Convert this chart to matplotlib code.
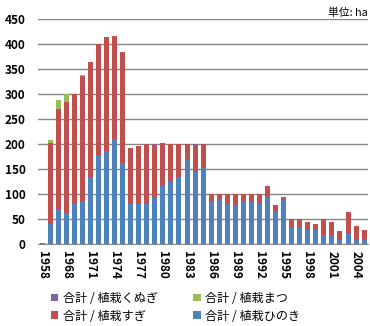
import matplotlib.pyplot as plt
import numpy as np

plt.rcParams["font.family"] = ["Noto Sans CJK JP", "DejaVu Sans"]

years = [1958, 1966, 1967] + list(range(1968, 2006))
hinoki = [0, 41, 69, 62, 81, 86, 133, 179, 187, 211, 162, 81, 81, 81, 94, 117,
          125, 133, 170, 145, 153, 87, 91, 83, 79, 87, 85, 83, 95, 65, 91, 35,
          35, 29, 29, 19, 19, 9, 21, 9, 9]
sugi = [2, 161, 202, 223, 219, 251, 232, 222, 228, 206, 223, 112, 116, 120, 104,
        86, 76, 68, 31, 53, 48, 14, 10, 18, 22, 14, 16, 18, 22, 13, 4, 15, 15,
        15, 11, 31, 26, 17, 43, 28, 19]
matsu = [0, 7, 18, 15, 0, 2] + [0] * 35
kunugi = [0] * 14 + [2, 0, 0, 0, 0, 2] + [0] * 21

series = [
    ("合計 / 植栽ひのき", hinoki, "#4F81BD"),
    ("合計 / 植栽すぎ", sugi, "#C0504D"),
    ("合計 / 植栽まつ", matsu, "#9BBB59"),
    ("合計 / 植栽くぬぎ", kunugi, "#8064A2"),
]

fig = plt.figure(figsize=(3.7, 3.26), dpi=100)
ax = fig.add_axes([0.103, 0.2506, 0.892, 0.6904])

x = np.arange(len(years))
bottom = np.zeros(len(years))
handles = {}
for label, values, color in series:
    vals = np.array(values, dtype=float)
    handles[label] = ax.bar(x, vals, width=0.62, bottom=bottom, color=color,
                            label=label, zorder=3)
    bottom += vals

ax.set_xlim(-0.5, 40.5)
ax.set_ylim(0, 450)
ax.set_yticks(np.arange(0, 451, 50))
ax.yaxis.grid(True, color="#868686", linewidth=1.0, zorder=0)
ax.set_axisbelow(True)
for side in ["top", "right", "left"]:
    ax.spines[side].set_visible(False)
ax.spines["bottom"].set_color("#868686")
ax.tick_params(axis="y", length=0, labelsize=8.5, pad=9)
ax.set_xticks(x[::3])
ax.set_xticklabels([str(y) for y in years[::3]], rotation=-90, fontsize=8.5)
ax.tick_params(axis="x", length=0, pad=5)
for t in ax.get_xticklabels() + ax.get_yticklabels():
    t.set_fontweight("bold")

fig.text(0.995, 0.962, "単位: ha", ha="right", va="center", fontsize=7.8)

order = ["合計 / 植栽くぬぎ", "合計 / 植栽すぎ", "合計 / 植栽まつ", "合計 / 植栽ひのき"]
fig.legend([handles[k] for k in order], order, ncol=2, loc="center",
           bbox_to_anchor=(0.475, 0.058), frameon=False, fontsize=8.7,
           handlelength=0.6, handleheight=0.6, handletextpad=0.4,
           columnspacing=2.9, labelspacing=0.4)

fig.savefig("out.png", dpi=100)
